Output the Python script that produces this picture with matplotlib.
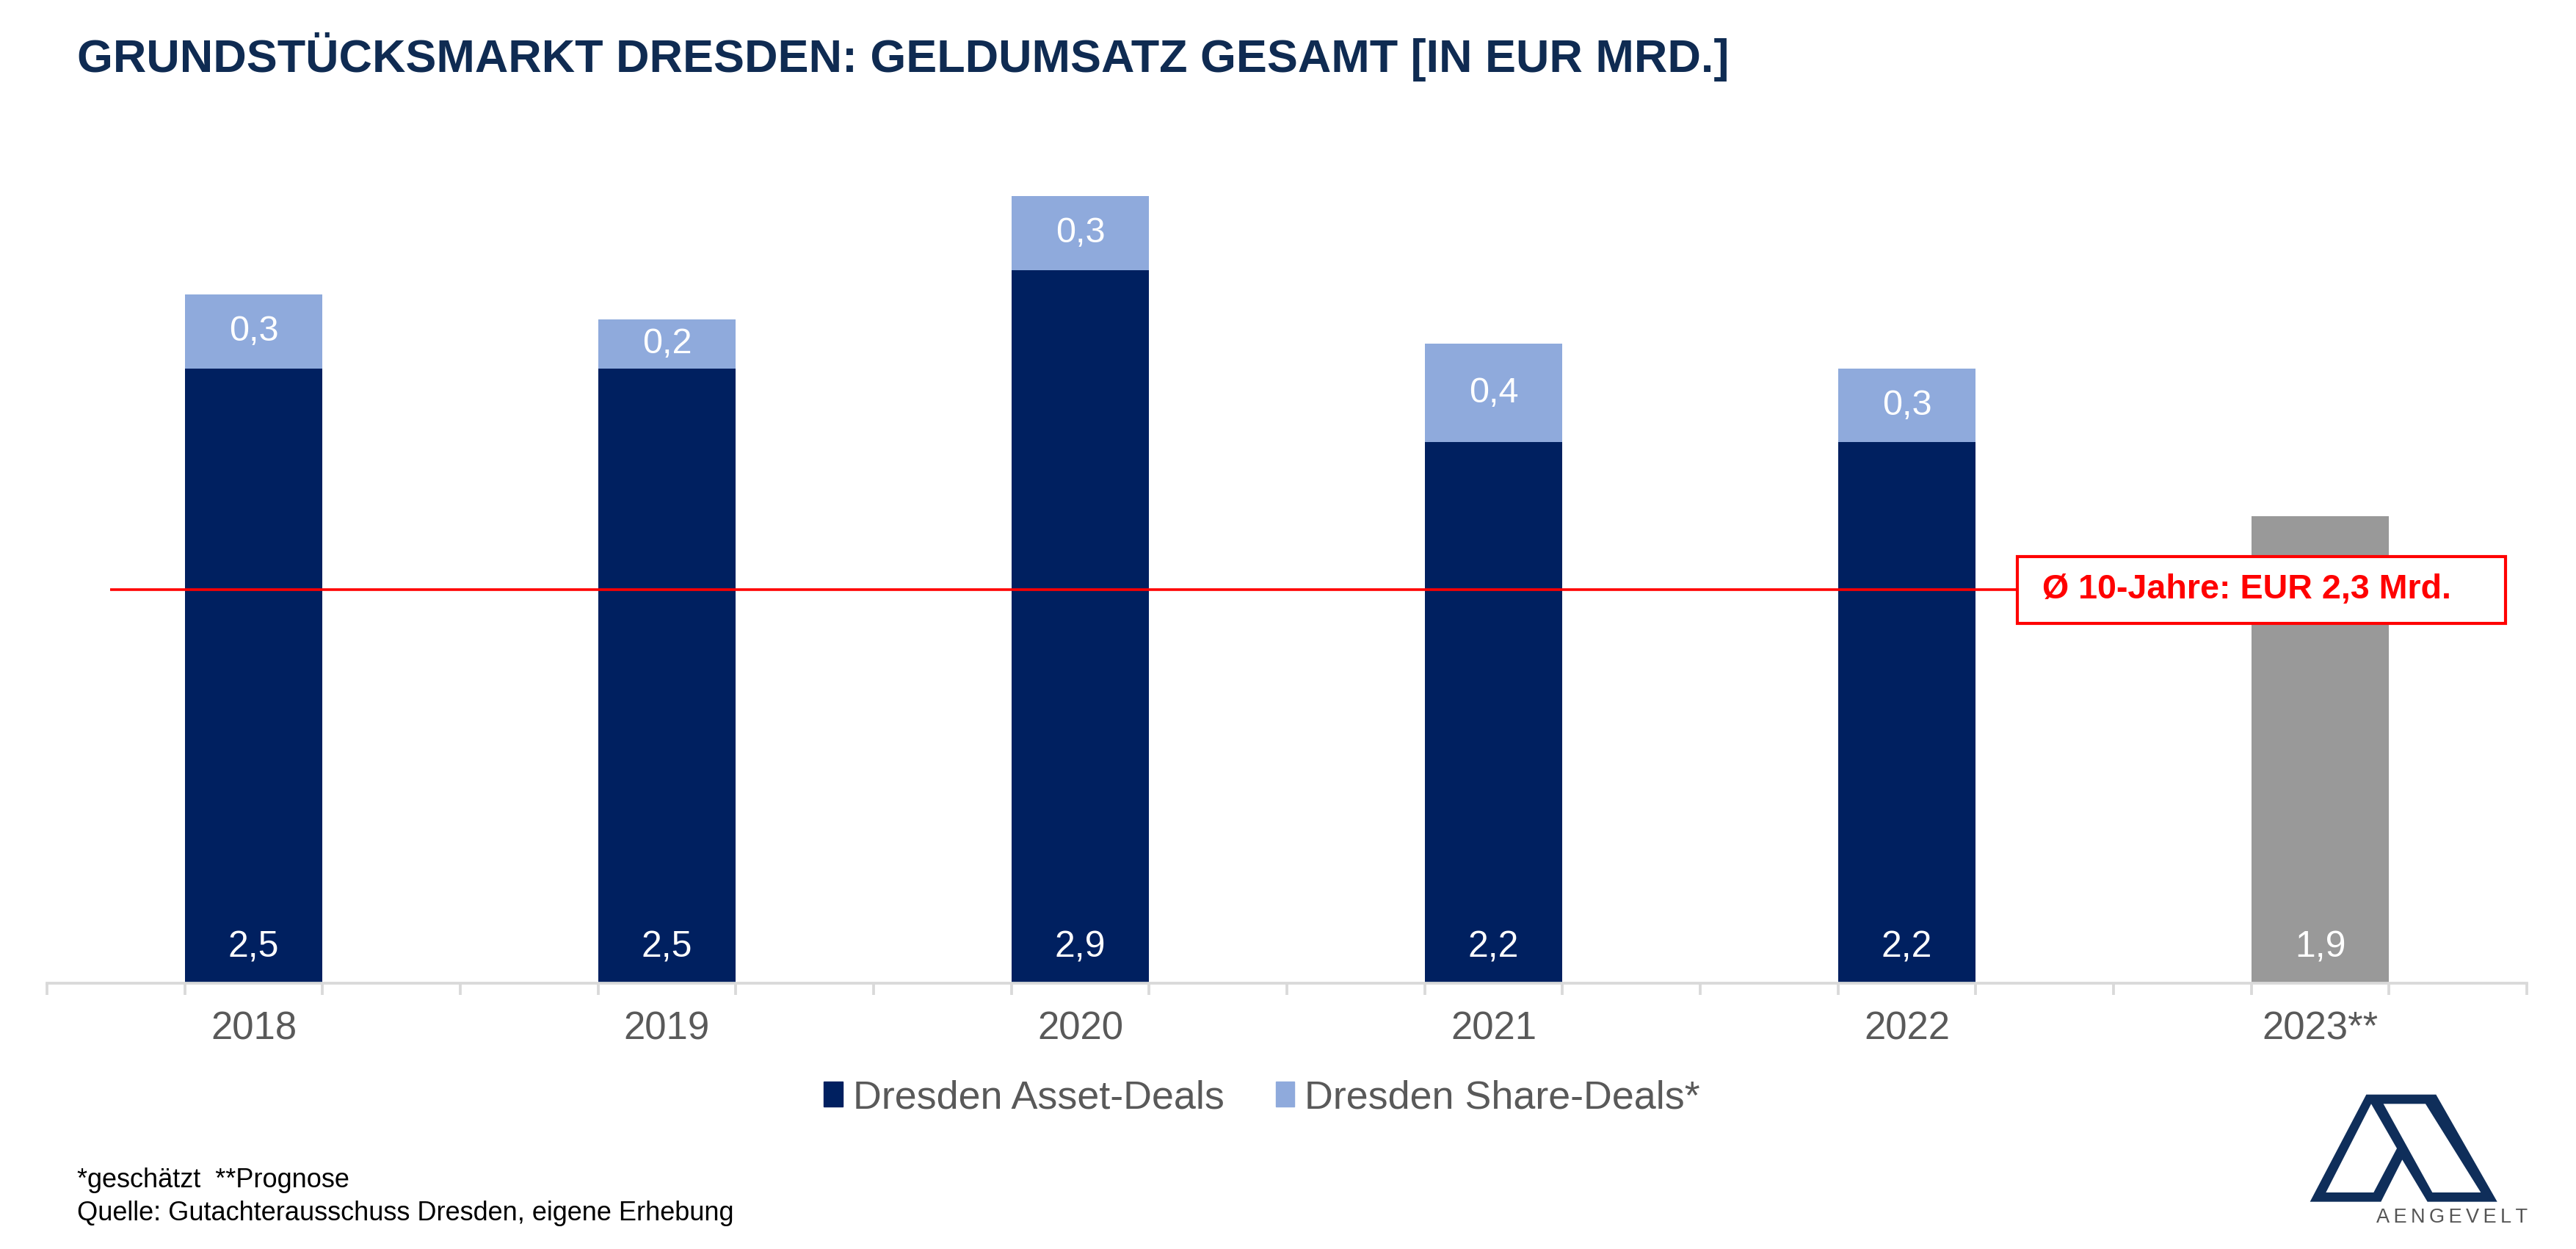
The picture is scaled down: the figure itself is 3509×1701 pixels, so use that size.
import matplotlib
matplotlib.use("Agg")
import matplotlib.pyplot as plt
from matplotlib.patches import Rectangle, PathPatch
from matplotlib.path import Path

plt.rcParams['font.family'] = ['Liberation Sans', 'DejaVu Sans']

# ---- data ----
years = ['2018', '2019', '2020', '2021', '2022', '2023**']
asset_deals = [2.5, 2.5, 2.9, 2.2, 2.2, 1.9]
share_deals = [0.3, 0.2, 0.3, 0.4, 0.3, 0.0]
forecast_flags = [False, False, False, False, False, True]
avg_line_y = 1.6
avg_label = 'Ø 10-Jahre: EUR 2,3 Mrd.'
title = 'GRUNDSTÜCKSMARKT DRESDEN: GELDUMSATZ GESAMT [IN EUR MRD.]'
legend_labels = ['Dresden Asset-Deals', 'Dresden Share-Deals*']
footnote1 = '*geschätzt  **Prognose'
footnote2 = 'Quelle: Gutachterausschuss Dresden, eigene Erhebung'

NAVY = '#002060'
LIGHT = '#8FAADC'
GRAY_BAR = '#999999'
TEXT_GRAY = '#595959'
TITLE_COL = '#0F2B52'
RED = '#FF0000'
AXIS_COL = '#D9D9D9'

W, H = 3509, 1701
fig = plt.figure(figsize=(W / 100, H / 100), dpi=100)
fig.patch.set_facecolor('white')

ax = fig.add_axes([64 / W, 1 - 1339 / H, (3442 - 64) / W, 1172 / H])
ax.set_xlim(-0.5, 5.5)
ax.set_ylim(0, 3.5)

x = list(range(len(years)))
bw = 1 / 3
asset_colors = [GRAY_BAR if f else NAVY for f in forecast_flags]
ax.bar(x, asset_deals, width=bw, color=asset_colors, zorder=2)
ax.bar(x, share_deals, width=bw, bottom=asset_deals, color=LIGHT, zorder=2)

def fmt(v):
    return f'{v:.1f}'.replace('.', ',')

for xi, a, s in zip(x, asset_deals, share_deals):
    ax.annotate(fmt(a), xy=(xi, 0), xytext=(0, 35), textcoords='offset points',
                ha='center', va='center', color='white', fontsize=36, zorder=4)
    if s > 0:
        ax.text(xi, a + s / 2, fmt(s), ha='center', va='center', color='white',
                fontsize=35, zorder=4)

# average line and box
box_l, box_r = 4.267, 5.448
box_h = 0.272
ax.plot([-0.347, box_l], [avg_line_y, avg_line_y], color=RED, lw=2.6, zorder=3,
        solid_capstyle='butt')
ax.add_patch(Rectangle((box_l, avg_line_y - box_h / 2), box_r - box_l, box_h,
                       facecolor='white', edgecolor=RED, lw=3.0, zorder=5))
ax.text((box_l + box_r) / 2 - 0.035, avg_line_y, avg_label, ha='center', va='center',
        color=RED, fontsize=33.6, fontweight='bold', zorder=6)

# axes styling
for sp in ['top', 'right', 'left']:
    ax.spines[sp].set_visible(False)
ax.spines['bottom'].set_color(AXIS_COL)
ax.spines['bottom'].set_linewidth(2.7)
ax.set_yticks([])
ax.set_xticks(x)
ax.set_xticklabels(years)
ax.set_xticks([-0.5 + k / 3 for k in range(19)], minor=True)
ax.tick_params(axis='x', which='major', length=0, pad=27, labelsize=38,
               labelcolor=TEXT_GRAY)
ax.tick_params(axis='x', which='minor', length=11.5, width=2.7, color=AXIS_COL,
               direction='out')

# legend
handles = [Rectangle((0, 0), 1, 1, color=NAVY), Rectangle((0, 0), 1, 1, color=LIGHT)]
leg = fig.legend(handles, legend_labels, loc='center', bbox_to_anchor=(1719 / W, 1 - 1495 / H),
                 ncol=2, frameon=False, fontsize=38.8, handlelength=0.48, handleheight=0.58,
                 handletextpad=0.25, columnspacing=1.3, borderpad=0)
for t in leg.get_texts():
    t.set_color(TEXT_GRAY)

# title
fig.text(105 / W, 1 - 98 / H, title, ha='left', va='baseline', fontsize=45.3,
         fontweight='bold', color=TITLE_COL)

# footnotes
fig.text(105 / W, 1 - 1607 / H, footnote1, ha='left', va='center', fontsize=26, color='black')
fig.text(105 / W, 1 - 1652 / H, footnote2, ha='left', va='center', fontsize=26, color='black')

# logo
def lp(zx, zy):
    fx = (3100 + zx / 3) / W
    fy = 1 - (1450 + zy / 3) / H
    return (fx, fy)

outer = [(370, 122), (655, 122), (905, 560), (620, 560), (517, 388), (430, 560), (140, 560)]
hole1 = [(390, 160), (205, 522), (400, 522), (495, 342)]
hole2 = [(440, 160), (640, 522), (838, 522), (612, 160)]
verts, codes = [], []
for poly in (outer, hole1, hole2):
    pts = [lp(*p) for p in poly]
    verts += pts + [pts[0]]
    codes += [Path.MOVETO] + [Path.LINETO] * (len(pts) - 1) + [Path.CLOSEPOLY]
patch = PathPatch(Path(verts, codes), facecolor='#0F2E5A', edgecolor='none',
                  transform=fig.transFigure)
fig.add_artist(patch)
fig.text(3340 / W, 1 - 1658 / H, 'A E N G E V E L T'.replace(' ', '\u2009'), ha='center',
         va='center', fontsize=19.5, color='#555555')

fig.savefig('out.png', dpi=100, facecolor='white')
